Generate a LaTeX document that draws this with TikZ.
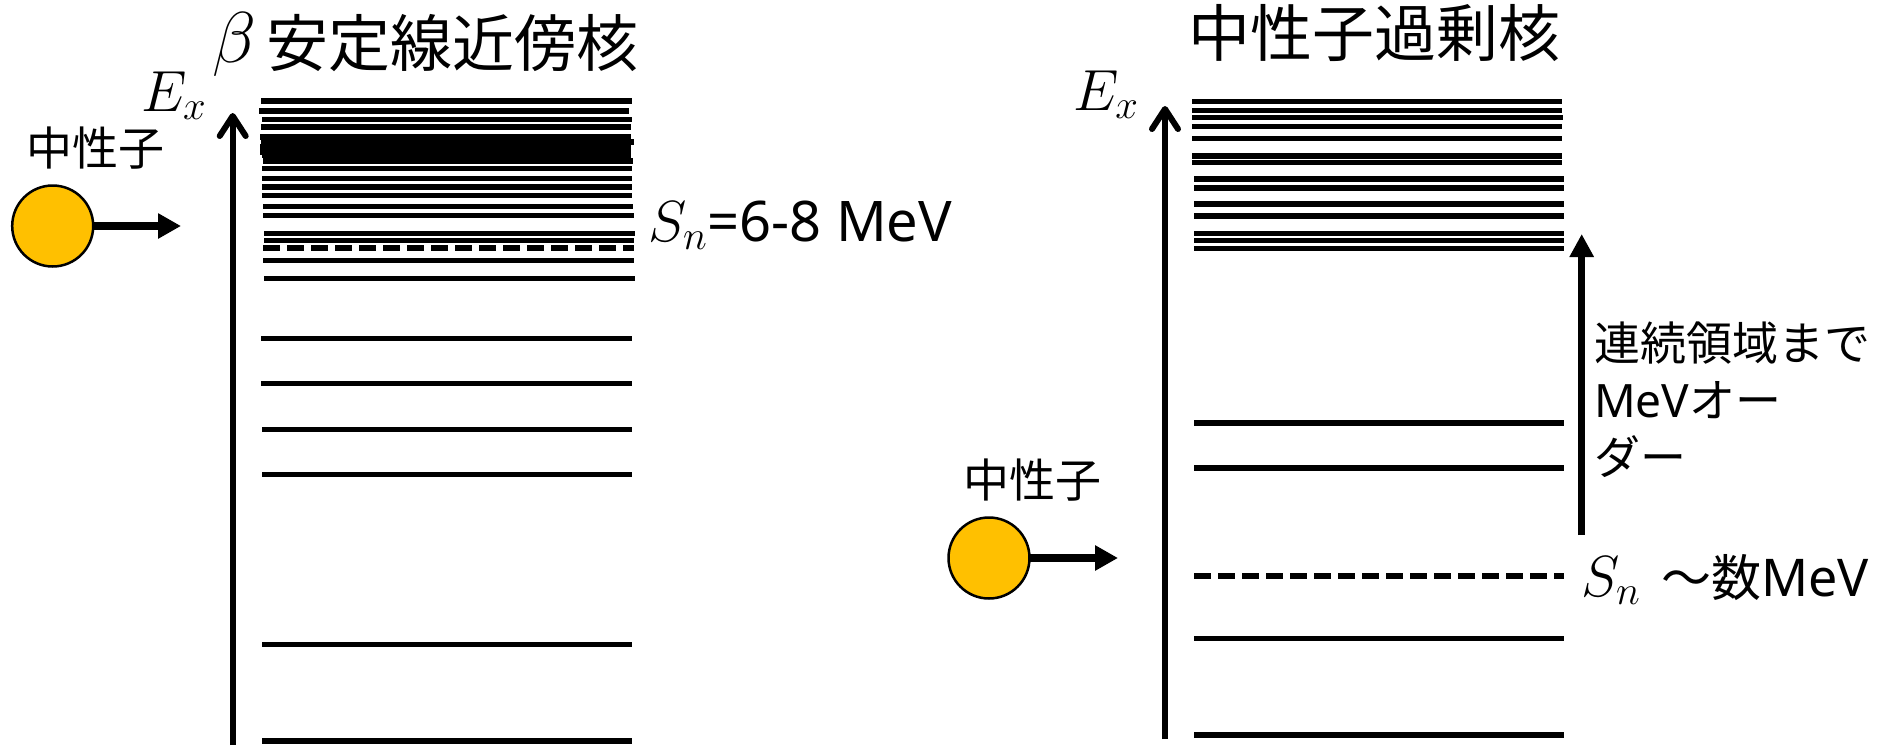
\RequirePackage{fix-cm}
\documentclass[tikz,border=0pt]{standalone}
\usepackage{fontspec}
\setmainfont{Noto Sans CJK JP}
\newfontfamily\latinsans{Noto Sans}
\usetikzlibrary{arrows.meta}
\definecolor{nOrange}{HTML}{FFC000}
\tikzset{
  lvl/.style={line width=5.5pt},
  lvldash/.style={line width=5.5pt, dash pattern=on 17.3pt off 6.7pt},
  eaxis/.style={line width=6pt, -{Straight Barb[length=20pt,width=26pt,round]}},
  nball/.style={circle, draw=black, line width=2.5pt, fill=nOrange, minimum size=81pt, inner sep=0pt, outer sep=0pt},
  narrow/.style={line width=7.5pt, -{Triangle[length=23pt,width=24pt]}},
  bigarrow/.style={line width=7pt, -{Triangle[length=23pt,width=23pt]}},
  ttl/.style={inner sep=0pt, font=\fontsize{62}{70}\selectfont},
  lbl/.style={inner sep=0pt, font=\fontsize{46}{57}\selectfont},
  mlbl/.style={inner sep=0pt, font=\fontsize{58}{60}\selectfont},
}
\begin{document}
\begin{tikzpicture}[x=1pt,y=-1pt]
\useasboundingbox[fill=white] (0,0) rectangle (1883,745);

% ---------- left: beta-stable nucleus ----------
\node[inner sep=0pt, font=\fontsize{72}{80}\selectfont, anchor=base west] (beta) at (212,62) {$\beta$};
\node[ttl] (title1) at (452,43) {安定線近傍核};
\node[mlbl, anchor=base west] (ex1) at (141,111) {$E_x$};
\coordinate (ax1b) at (232.7,745);
\coordinate (ax1t) at (232.7,113);
\draw[eaxis] (ax1b) -- (ax1t);

\foreach \y/\a/\b in {101/261/632, 111/259/629, 119.3/262/632, 127/261/631,
  137/260/631, 142/261/634, 147/260/631, 152/260/631, 155/262/631,
  161/263/633, 168.7/262/632, 178.7/262/632, 187/262/632, 195.7/262/632,
  206.5/263/633, 215.3/263/634, 233.3/264/635, 240.5/264/634,
  260.3/263/634, 278.3/264/635, 338.7/261/632, 383.7/261/632,
  429.3/262/632, 474.3/262/632, 644.3/262/632, 741/262/632}
  \draw[lvl] (\a,\y) -- (\b,\y);
\draw[lvldash] (263,248) -- (634,248);

\node[mlbl, anchor=base west] (sn1) at (648,241) {$S_n${\latinsans\fontsize{56}{60}\selectfont =6-8 MeV}};

\node[lbl] (nlab1) at (95.5,148) {中性子};
\node[nball] (n1) at (52.7,226) {};
\coordinate (nt1) at (181,226);
\draw[narrow] (n1.east) -- (nt1);

% ---------- right: neutron-rich nucleus ----------
\node[ttl] (title2) at (1374,33) {中性子過剰核};
\node[mlbl, anchor=base west] (ex2) at (1073,110) {$E_x$};
\coordinate (ax2b) at (1165,739);
\coordinate (ax2t) at (1165,106);
\draw[eaxis] (ax2b) -- (ax2t);

\foreach \y/\a/\b in {101.3/1192/1562, 110.3/1192/1562, 117.7/1192/1563,
  126.3/1192/1562, 138.3/1192/1562, 156/1192/1562, 162.7/1192/1562,
  179/1194/1564, 188/1194/1564, 204/1194/1564, 216/1194/1564,
  233.3/1194/1564, 240.3/1194/1564, 248.3/1194/1564,
  423/1194/1564, 468/1194/1564, 638.3/1194/1564, 735/1194/1564}
  \draw[lvl] (\a,\y) -- (\b,\y);
\draw[lvldash] (1194,576) -- (1564,576);

\node[mlbl, anchor=base west] (sn2) at (1581,596) {$S_n$\hspace{21pt}{\fontsize{50}{60}\selectfont ～数{\latinsans\fontsize{52}{60}\selectfont MeV}}};

\coordinate (cb) at (1581.7,535);
\coordinate (ct) at (1581.7,234);
\draw[bigarrow] (cb) -- (ct);
\node[lbl, anchor=north west, align=left] (cont) at (1594,322) {連続領域まで\\{\latinsans MeV}オー\\ダー};

\node[lbl] (nlab2) at (1032,480) {中性子};
\node[nball] (n2) at (989,558) {};
\coordinate (nt2) at (1118,558);
\draw[narrow] (n2.east) -- (nt2);
\end{tikzpicture}
\end{document}
